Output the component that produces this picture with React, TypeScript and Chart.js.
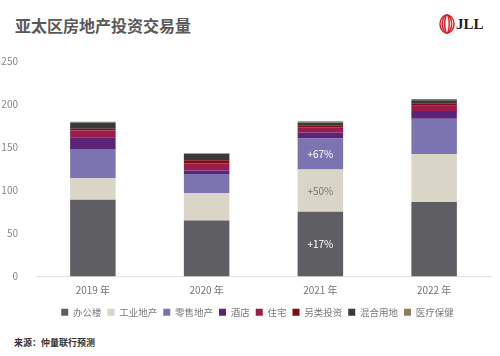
import React, { useEffect, useRef } from "react";
import { Chart, registerables } from "chart.js";

Chart.register(...registerables);

const years = ["2019 年", "2020 年", "2021 年", "2022 年"];
const seriesNames = ["办公楼", "工业地产", "零售地产", "酒店", "住宅", "另类投资", "混合用地", "医疗保健"];
const office = [89, 65, 75, 86.5];
const industrial = [25, 32, 49, 55.5];
const retail = [34, 22, 36, 41];
const hotel = [13.5, 4, 7, 9];
const residential = [8, 8, 6, 6];
const alternative = [2, 4, 2.5, 3];
const mixed = [7, 7, 3, 3.5];
const healthcare = [1, 1, 1.5, 1.5];
const seriesColors = ["#5f5f63", "#d9d6c8", "#7b74b0", "#5b2479", "#9b1b4a", "#7d0f14", "#3a3a3c", "#8c8060"];
const growthLabels: (string | null)[][] = [
  [null, null, "+17%", null],
  [null, null, "+50%", null],
  [null, null, "+67%", null],
];
const growthColors = ["#ffffff", "#777777", "#ffffff"];
const yTicks = [0, 50, 100, 150, 200, 250];

const FONT = "'Noto Sans CJK SC', 'Noto Sans', sans-serif";

export default function App() {
  const ref = useRef<HTMLCanvasElement>(null);
  useEffect(() => {
    document.body.style.margin = "0";
    const values = [office, industrial, retail, hotel, residential, alternative, mixed, healthcare];
    const labelPlugin = {
      id: "growth",
      afterLayout(chart: any) {
        if (chart.legend) {
          chart.legend.left += 12;
          chart.legend.right += 12;
          chart.legend.top += 5;
          chart.legend.bottom += 5;
        }
      },
      afterDatasetsDraw(chart: any) {
        const ctx = chart.ctx;
        ctx.save();
        ctx.font = `10px ${FONT}`;
        ctx.textAlign = "center";
        ctx.textBaseline = "middle";
        growthLabels.forEach((row, di) => {
          const meta = chart.getDatasetMeta(di);
          row.forEach((t, i) => {
            if (!t) return;
            const el = meta.data[i];
            ctx.fillStyle = growthColors[di];
            ctx.fillText(t, el.x, (el.y + el.base) / 2);
          });
        });
        ctx.restore();
      },
    };
    const chart = new Chart(ref.current!, {
      type: "bar",
      data: {
        labels: years,
        datasets: values.map((v, i) => ({
          label: seriesNames[i],
          data: v,
          backgroundColor: seriesColors[i],
          borderWidth: 0,
          categoryPercentage: 1,
          barPercentage: 0.4,
        })),
      },
      options: {
        animation: false,
        responsive: false,
        maintainAspectRatio: false,
        layout: { padding: { top: 61, right: 9, left: 0, bottom: 10 } },
        plugins: {
          tooltip: { enabled: false },
          legend: {
            position: "bottom",
            labels: {
              boxWidth: 7,
              boxHeight: 7,
              padding: 6,
              color: "#7a7a7a",
              font: { family: FONT, size: 9.5 },
            },
          },
        },
        scales: {
          x: {
            stacked: true,
            grid: { display: false },
            border: { display: true, color: "#e4e4e4", width: 1 },
            ticks: { color: "#777777", font: { family: FONT, size: 10 }, padding: 0 },
          },
          y: {
            stacked: true,
            min: 0,
            max: 250,
            afterFit: (s: any) => { s.width = 36; },
            afterBuildTicks: (s: any) => { s.ticks = yTicks.map((v) => ({ value: v })); },
            grid: { display: false },
            border: { display: false },
            ticks: { color: "#888888", font: { family: FONT, size: 10 }, padding: 10 },
          },
        },
      },
      plugins: [labelPlugin],
    });
    return () => chart.destroy();
  }, []);
  return (
    <div style={{ position: "relative", width: 500, height: 356, background: "#fff", overflow: "hidden", fontFamily: FONT }}>
      <div style={{ position: "absolute", left: 15, top: 13, fontSize: 16, fontWeight: 700, color: "#5a5a5a", whiteSpace: "nowrap" }}>
        亚太区房地产投资交易量
      </div>
      <div style={{ position: "absolute", left: 439, top: 14, display: "flex", alignItems: "center" }}>
        <svg width="16" height="20" viewBox="0 0 16 20">
          <ellipse cx="8" cy="10" rx="7" ry="9" fill="none" stroke="#d7262e" strokeWidth="1.5" />
          <ellipse cx="8" cy="10" rx="4.6" ry="9" fill="none" stroke="#d7262e" strokeWidth="1.5" />
          <ellipse cx="8" cy="10" rx="2.2" ry="9" fill="none" stroke="#d7262e" strokeWidth="1.5" />
        </svg>
        <span style={{ fontFamily: "'Liberation Serif', serif", fontWeight: 700, fontSize: 15, color: "#222", marginLeft: 1 }}>JLL</span>
      </div>
      <canvas ref={ref} width={500} height={332} style={{ position: "absolute", left: 0, top: 0 }} />
      <div style={{ position: "absolute", left: 14, top: 336, fontSize: 9, fontWeight: 700, color: "#333", whiteSpace: "nowrap" }}>
        来源：仲量联行预测
      </div>
    </div>
  );
}
